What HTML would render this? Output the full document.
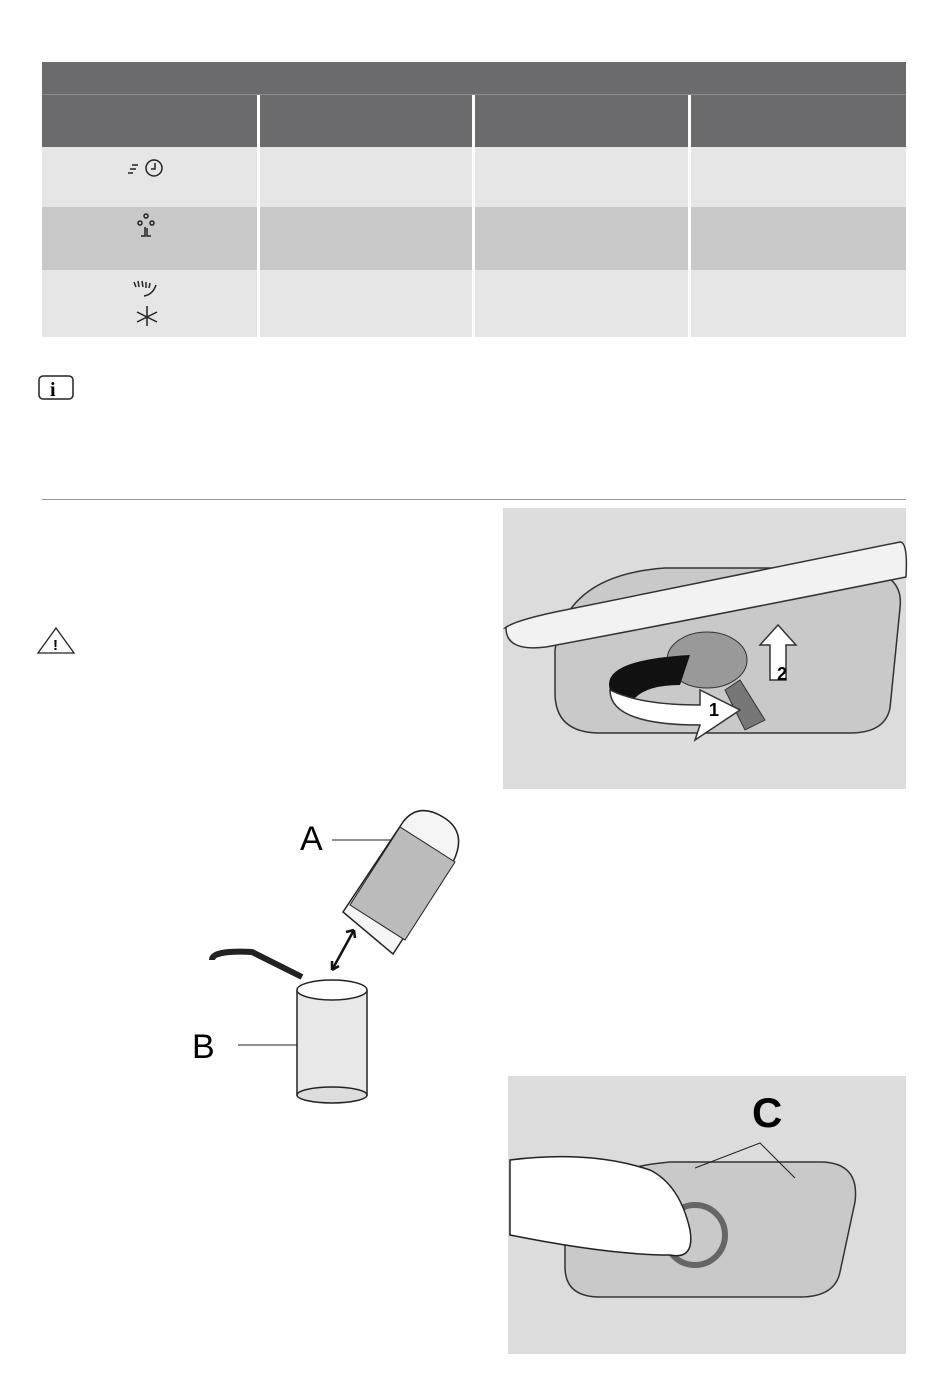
<!DOCTYPE html>
<html><head><meta charset="utf-8"><style>
body{margin:0;width:950px;height:1381px;background:#fff;position:relative;overflow:hidden;font-family:"Liberation Sans",sans-serif}
.a{position:absolute}
</style></head><body>
<div class="a" style="left:42px;top:62px;width:864px;height:85px;background:#6b6b6d"></div>
<div class="a" style="left:42px;top:94px;width:864px;height:1px;background:#8a8a8c"></div>
<div class="a" style="left:42px;top:147px;width:864px;height:60px;background:#e6e6e6"></div>
<div class="a" style="left:42px;top:207px;width:864px;height:63px;background:#c8c8c8"></div>
<div class="a" style="left:42px;top:270px;width:864px;height:67px;background:#e6e6e6"></div>
<div class="a" style="left:257px;top:95px;width:3px;height:242px;background:#fff"></div>
<div class="a" style="left:472px;top:95px;width:3px;height:242px;background:#fff"></div>
<div class="a" style="left:688px;top:95px;width:3px;height:242px;background:#fff"></div>
<svg class="a" style="left:0;top:0" width="950" height="1381">
<g stroke="#222" stroke-width="1.5" fill="none">
<path d="M132 165h6M130 169h6M128 173h5"/><circle cx="154" cy="168" r="8"/><path d="M155 163v6h-4"/>
<circle cx="146" cy="216" r="2"/><circle cx="140" cy="223" r="2"/><circle cx="152" cy="223" r="2"/><path d="M145 227v9h-4M147 228v8h4"/>
<path d="M134 282l2 5M138 281l1 6M142 281l1 6M146 282l0 6M150 283l-1 5M156 285c-2 6-6 10-12 11"/>
<path d="M147 306v20M137 312l20 10M157 312l-20 10"/>
<rect x="39" y="376" width="34" height="23" rx="4"/>
</g>
<text x="50" y="396" font-size="20" font-weight="bold" font-family="Liberation Serif">i</text>
<line x1="42" y1="499.5" x2="906" y2="499.5" stroke="#999"/>
<path d="M56 628l18 25H38z" fill="none" stroke="#222" stroke-width="1.3"/>
<text x="53" y="650" font-size="15" font-weight="bold">!</text>
<rect x="503" y="508" width="403" height="281" fill="#dcdcdc"/>
<path d="M555 650q10-75 110-82h180q60 0 55 40l-10 100q-5 25-40 25H600q-45 0-45-40z" fill="#c9c9c9" stroke="#333" stroke-width="1.5"/>
<path d="M505 628q10-8 60-18l335-68q8 0 6 35-200 40-360 70-40 5-40-19z" fill="#f2f2f2" stroke="#333" stroke-width="1.5"/>
<ellipse cx="707" cy="660" rx="40" ry="28" fill="#999" stroke="#333"/>
<path d="M740 680l25 40-20 10-20-40z" fill="#777" stroke="#333"/>
<path d="M610 690q-10-30 80-35l-10 30q-40 0-50 20z" fill="#111"/>
<path d="M610 690q0 35 90 35l-5 15 45-30-40-20v15q-60 0-90-15z" fill="#fff" stroke="#333" stroke-width="1.5"/>
<path d="M770 680v-35h-10l18-20 18 20h-10v35z" fill="#fff" stroke="#333" stroke-width="1.5"/>
<text x="709" y="716" font-size="18" font-weight="bold">1</text>
<text x="777" y="680" font-size="18" font-weight="bold">2</text>
<text x="300" y="850" font-size="34">A</text>
<text x="192" y="1058" font-size="34">B</text>
<line x1="332" y1="840" x2="400" y2="840" stroke="#222"/>
<line x1="238" y1="1045" x2="310" y2="1045" stroke="#222"/>
<path d="M343 912l60-90q15-20 40-5t10 45l-60 92z" fill="#f5f5f5" stroke="#222" stroke-width="1.5"/>
<path d="M350 905l50-78 55 35-50 78z" fill="#bbb" stroke="#222"/>
<path d="M332 970l22-40M354 930l-8 2M354 930l1 8M332 970l0-9M332 970l7-4" stroke="#111" stroke-width="2.5" fill="none"/>
<path d="M212 960q0-10 40-8l50 25" fill="none" stroke="#222" stroke-width="6"/>
<path d="M297 990l0 105h70V990" fill="#e8e8e8" stroke="#222" stroke-width="1.5"/>
<ellipse cx="332" cy="990" rx="35" ry="10" fill="#fff" stroke="#222" stroke-width="1.5"/>
<ellipse cx="332" cy="1095" rx="35" ry="8" fill="#ddd" stroke="#222" stroke-width="1.5"/>
<rect x="508" y="1076" width="398" height="278" fill="#dcdcdc"/>
<path d="M565 1230q10-60 105-68h150q40 0 35 40l-15 70q-5 25-40 25H600q-35 0-35-30z" fill="#c9c9c9" stroke="#333" stroke-width="1.5"/>
<circle cx="695" cy="1235" r="30" fill="none" stroke="#666" stroke-width="6"/>
<path d="M510 1160q80-10 140 10 30 15 40 60 5 30-20 25-60 0-160-20z" fill="#fff" stroke="#222" stroke-width="1.5"/>
<path d="M695 1168l65-25 35 35" fill="none" stroke="#222"/>
<text x="752" y="1127" font-size="42" font-weight="bold">C</text>
</svg>
</body></html>
